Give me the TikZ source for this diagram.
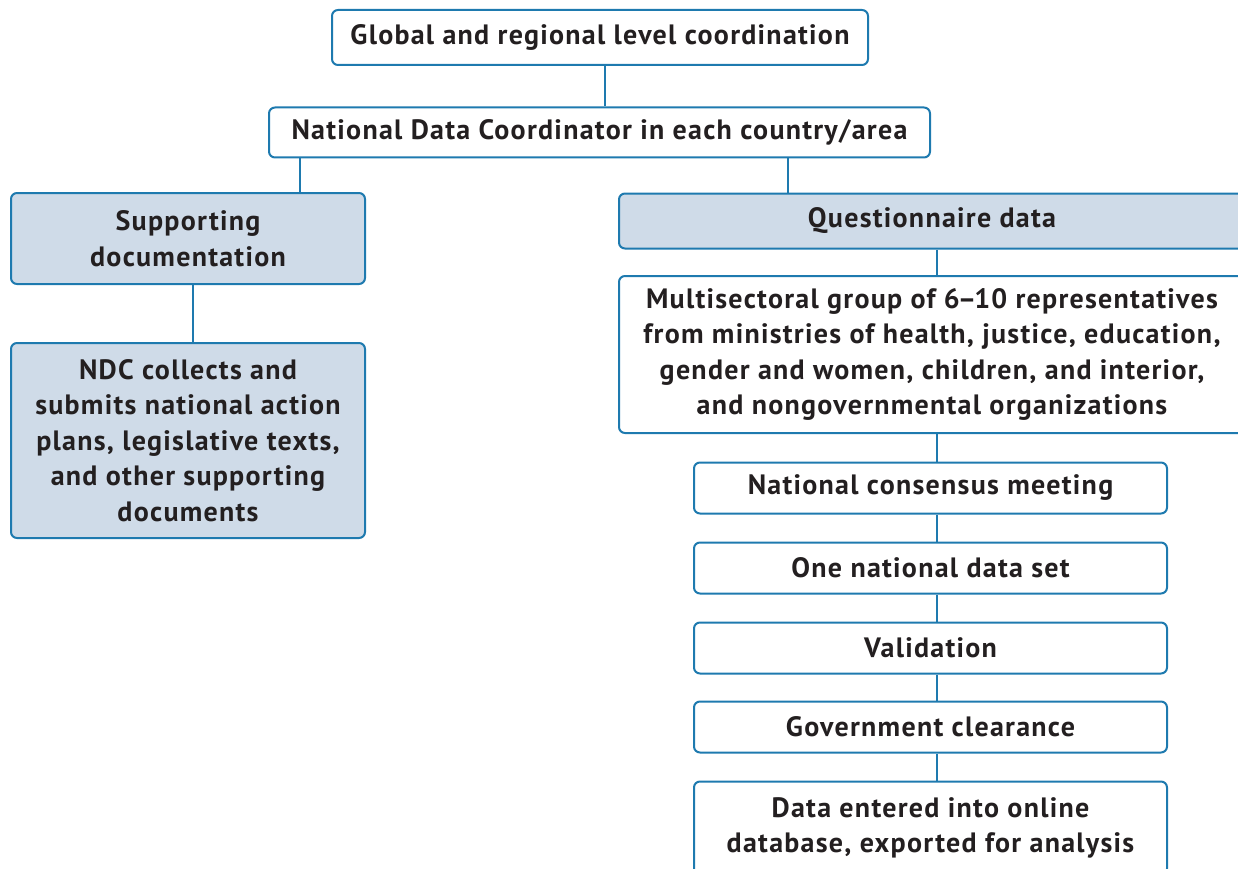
\documentclass[tikz,border=0pt]{standalone}
\usepackage{fontspec}
\setmainfont{PT Sans}[LetterSpace=4.5]
\definecolor{lineblue}{RGB}{30,122,175}
\definecolor{boxfill}{RGB}{207,219,232}
\definecolor{ink}{RGB}{35,31,32}
\usetikzlibrary{positioning}
\tikzstyle{base}=[x=1pt, y=-1pt]
\tikzstyle{box}=[draw=lineblue, line width=2pt, rounded corners=6pt, align=center, inner sep=0pt,
  text=ink, font=\fontsize{28}{35.5}\selectfont\bfseries]
\tikzstyle{shaded}=[box, fill=boxfill]
\tikzstyle{link}=[lineblue, line width=2pt]

\begin{document}
\begin{tikzpicture}[base]
    \useasboundingbox (0,0) rectangle (1238,869);
    \clip (0,0) rectangle (1238,869);
    % top of the tree
    \node [box, minimum width=536, minimum height=55] (glob) at (600,37.5) {Global and regional level coordination};
    \node [box, minimum width=661, minimum height=50] (ndc) at (599.5,132.5) {National Data Coordinator in each country/area};
    % left branch
    \node [shaded, minimum width=354, minimum height=91] (supp) at (188,238.5) {Supporting\\documentation};
    \node [shaded, minimum width=354, minimum height=195] (docs) at (188,440.5)
        {NDC collects and\\submits national action\\plans, legislative texts,\\and other supporting\\documents};
    % right branch
    \node [shaded, minimum width=626, minimum height=55] (quest) at (932,221) {Questionnaire data};
    \node [box, minimum width=626, minimum height=157] (group) at (932,354.5)
        {Multisectoral group of 6\kern-2pt–\kern-2pt10 representatives\\from ministries of health, justice, education,\\gender and women, children, and interior,\\and nongovernmental organizations};
    \node [box, minimum width=473, minimum height=51] (meet) at (930.5,488) {National consensus meeting};
    \node [box, minimum width=473, minimum height=51] (dset) at (930.5,568) {One national data set};
    \node [box, minimum width=473, minimum height=51] (valid) at (930.5,648) {Validation};
    \node [box, minimum width=473, minimum height=51] (clear) at (930.5,727) {Government clearance};
    \node [box, minimum width=473, minimum height=93] (entry) at (930.5,828) {Data entered into online\\database, exported for analysis};
    % connectors
    \draw [link] (glob.south -| 605,0) -- (ndc.north -| 605,0);
    \draw [link] (ndc.south -| 300,0) -- (supp.north -| 300,0);
    \draw [link] (ndc.south -| 788,0) -- (quest.north -| 788,0);
    \draw [link] (supp.south -| 193,0) -- (docs.north -| 193,0);
    \draw [link] (quest.south -| 937,0) -- (group.north -| 937,0);
    \draw [link] (group.south -| 937,0) -- (meet.north -| 937,0);
    \foreach \a/\b in {meet/dset, dset/valid, valid/clear, clear/entry}
        \draw [link] (\a.south -| 937,0) -- (\b.north -| 937,0);
\end{tikzpicture}
\end{document}
